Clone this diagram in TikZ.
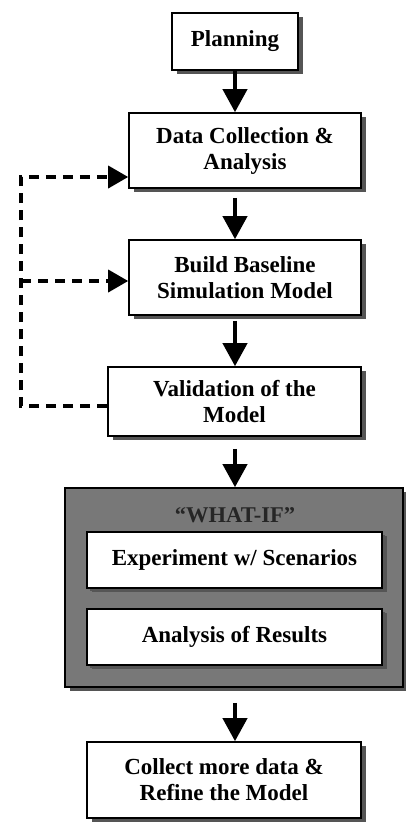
\documentclass[tikz,border=0pt]{standalone}
\usepackage{fontspec}
\setmainfont{Liberation Serif}
\usetikzlibrary{arrows.meta,shadows}
\definecolor{shadowgray}{HTML}{555555}
\definecolor{whatifgray}{HTML}{787878}
\begin{document}
\begin{tikzpicture}[x=1pt,y=-1pt,
  boxshadow/.style={drop shadow={shadow xshift=5pt,shadow yshift=-4pt,fill=shadowgray,opacity=1}},
  innershadow/.style={drop shadow={shadow xshift=3pt,shadow yshift=-3pt,fill=shadowgray,opacity=1}},
  stepbox/.style={draw=black,line width=1.6pt,fill=white,rectangle,inner sep=0pt,align=center,
     font=\fontsize{23}{26}\selectfont\bfseries,boxshadow},
  flow/.style={line width=4pt,-{Triangle[width=24pt,length=23pt]}},
  back/.style={line width=3.6pt,dash pattern=on 10pt off 7pt,-{Triangle[width=22pt,length=20pt]}}]
\useasboundingbox (0,0) rectangle (405,822);
\node[stepbox,minimum width=126pt,minimum height=57pt] (plan) at (235,41.5) {Planning};
\node[stepbox,minimum width=232pt,minimum height=75pt] (data) at (245,150.5) {Data Collection \&\\Analysis};
\node[stepbox,minimum width=232pt,minimum height=75pt] (build) at (245,277.5) {Build Baseline\\Simulation Model};
\node[stepbox,minimum width=253pt,minimum height=69pt] (valid) at (234.5,401.5) {Validation of the\\Model};
\node[draw=black,line width=1.6pt,fill=whatifgray,rectangle,inner sep=0pt,boxshadow,
      minimum width=338pt,minimum height=199pt] (whatif) at (234,587.5) {};
\node[font=\fontsize{22.5}{26}\selectfont\bfseries,text=black!85] (wtitle) at (235,515) {“WHAT-IF”};
\node[stepbox,innershadow,minimum width=295pt,minimum height=56pt] (exper) at (234.5,560) {Experiment w/ Scenarios};
\node[stepbox,innershadow,minimum width=295pt,minimum height=56pt] (anal) at (234.5,637) {Analysis of Results};
\node[stepbox,minimum width=274pt,minimum height=76pt] (collect) at (224,780) {Collect more data \&\\Refine the Model};
% flow arrows
\draw[flow] (plan.south) -- (plan.south |- data.north);
\draw[flow] ([yshift=-9pt]data.south -| plan.south) -- (plan.south |- build.north);
\draw[flow] ([yshift=-5pt]build.south -| plan.south) -- (plan.south |- valid.north);
\draw[flow] ([yshift=-12pt]valid.south -| plan.south) -- (plan.south |- whatif.north);
\draw[flow] ([yshift=-15pt]whatif.south -| plan.south) -- (plan.south |- collect.north);
% feedback
\coordinate (lft) at (21,406);
\draw[back] ([yshift=-4.5pt]valid.west) -- (lft) |- ([yshift=-26.5pt]data.west);
\draw[back] (lft |- 0,281) -- ([yshift=-3.5pt]build.west);
\end{tikzpicture}
\end{document}
